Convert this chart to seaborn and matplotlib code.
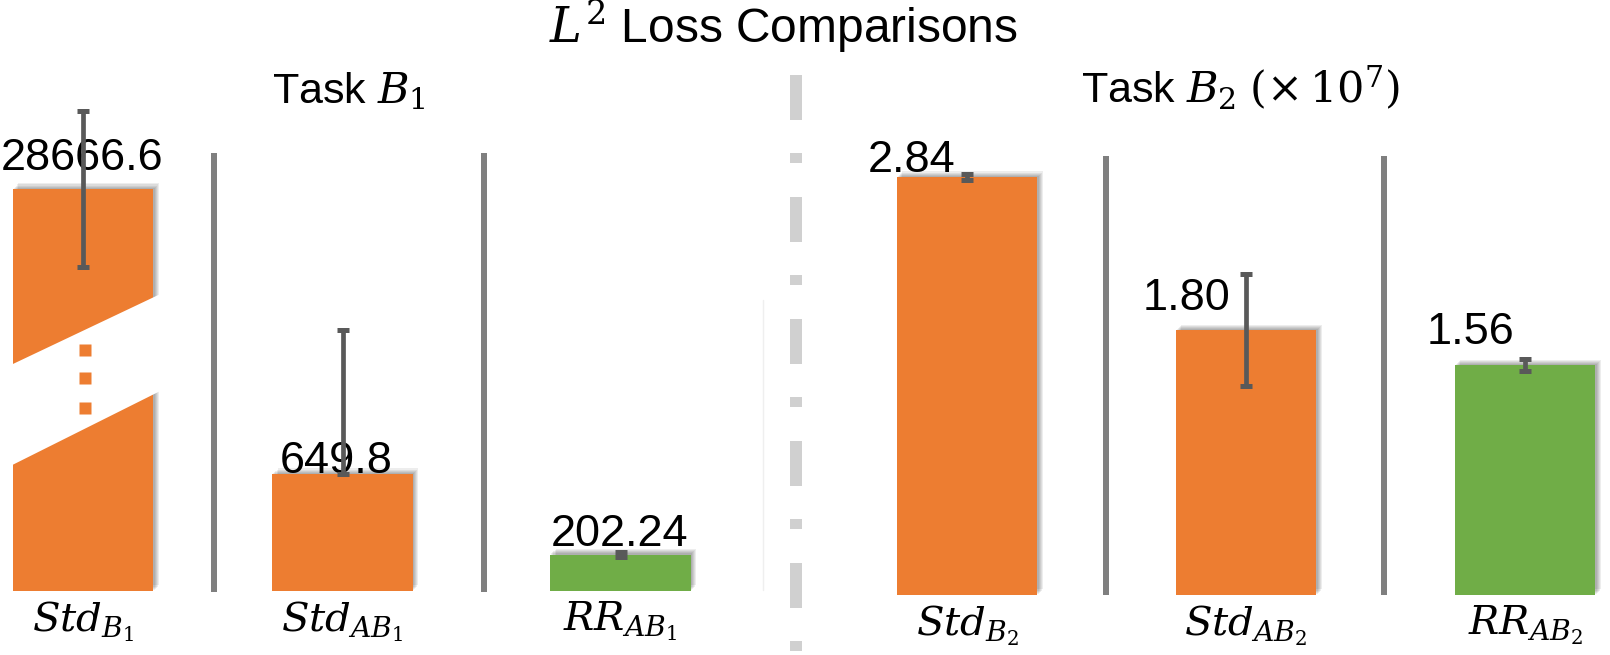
import numpy as np
import matplotlib
matplotlib.use("Agg")
import matplotlib.pyplot as plt
import matplotlib.patheffects as pe
from matplotlib.lines import Line2D
from matplotlib.patches import Polygon
import seaborn as sns

# ---------------- data ----------------
categories_B1 = [r"$Std_{B_1}$", r"$Std_{AB_1}$", r"$RR_{AB_1}$"]
values_B1 = [28666.6, 649.8, 202.24]
err_low_B1 = [11000.0, 0.0, 12.0]
err_high_B1 = [11000.0, 800.0, 12.0]
labels_B1 = ["28666.6", "649.8", "202.24"]

categories_B2 = [r"$Std_{B_2}$", r"$Std_{AB_2}$", r"$RR_{AB_2}$"]
values_B2 = [2.84, 1.80, 1.56]
err_low_B2 = [0.02, 0.38, 0.04]
err_high_B2 = [0.02, 0.38, 0.04]
labels_B2 = ["2.84", "1.80", "1.56"]

kinds = ["std", "std", "rr"]

# ---------------- style ----------------
sns.set_theme(style="white")
plt.rcParams["font.family"] = ["Liberation Sans", "DejaVu Sans"]
plt.rcParams["mathtext.fontset"] = "dejavuserif"
plt.rcParams["lines.scale_dashes"] = False

ORANGE = "#ED7D31"
GREEN = "#70AD47"
ERR = "#595959"
SEP = "#7F7F7F"
DASH = "#D0D0D0"
colors = {"std": ORANGE, "rr": GREEN}

W, H = 1610, 655
fig = plt.figure(figsize=(W / 100, H / 100), dpi=100)
fig.patch.set_facecolor("white")


def fx(px):
    return px / W


def fy(py):
    return 1 - py / H


PT = 0.72  # points per pixel at dpi 100

# layout (pixels)
centers_B1 = [83, 342.5, 620.5]
centers_B2 = [967, 1246, 1525]
base_B1, base_B2 = 591, 595
top_px = 100
ax_w = 160
ylim_B1 = 2727.0
ylim_B2 = 3.363
lab_dx_B1, lab_dy_B1 = [-0.5, -6, -1], [19, 1, 9]
lab_dx_B2, lab_dy_B2 = [-55, -60, -55], [5, 20, 21]

# broken scale for the first bar
T_BREAK, K_BREAK = 1150.0, 0.03936


def fwd(y):
    y = np.asarray(y, dtype=float)
    return np.where(y <= T_BREAK, y, T_BREAK + (y - T_BREAK) * K_BREAK)


def inv(y):
    y = np.asarray(y, dtype=float)
    return np.where(y <= T_BREAK, y, T_BREAK + (y - T_BREAK) / K_BREAK)


shadow = [pe.SimplePatchShadow(offset=(o, o), shadow_rgbFace="#000000", alpha=0.07)
          for o in (0.8, 1.6, 2.4, 3.2, 4.0)] + [pe.Normal()]


def draw_bar(cx, base, cat, val, elo, ehi, kind, label, ldx, ldy, ylim, broken=False):
    ax = fig.add_axes([fx(cx - ax_w / 2), fy(base), ax_w / W, (base - top_px) / H])
    sns.barplot(x=[cat], y=[val], color=colors[kind], saturation=1, width=0.88,
                ax=ax, zorder=2)
    if broken:
        ax.set_yscale("function", functions=(fwd, inv))
        ax.set_ylim(0, float(inv(ylim)))
    else:
        ax.set_ylim(0, ylim)
    ax.set_xlim(-0.5, 0.5)
    for p in ax.patches:
        p.set_path_effects(shadow)
        p.set_edgecolor("none")
    ax.errorbar([0], [val], yerr=[[elo], [ehi]], fmt="none", ecolor=ERR,
                elinewidth=3.4, capsize=4, capthick=3.6, zorder=6)
    ax.annotate(label, xy=(0, val), xytext=(ldx * PT, ldy * PT),
                textcoords="offset points", ha="center", va="baseline",
                fontsize=32.5, color="black", zorder=4, annotation_clip=False)
    ax.set_frame_on(False)
    ax.set_yticks([])
    ax.set_xlabel("")
    ax.set_ylabel("")
    ax.tick_params(axis="x", length=0, pad=6, labelsize=29, labelcolor="black")
    ax.grid(False)
    return ax


ax_first = None
for i in range(3):
    a = draw_bar(centers_B1[i], base_B1, categories_B1[i], values_B1[i], err_low_B1[i],
                 err_high_B1[i], kinds[i], labels_B1[i], lab_dx_B1[i], lab_dy_B1[i],
                 ylim_B1, broken=(i == 0))
    if i == 0:
        ax_first = a
for i in range(3):
    draw_bar(centers_B2[i], base_B2, categories_B2[i], values_B2[i], err_low_B2[i],
             err_high_B2[i], kinds[i], labels_B2[i], lab_dx_B2[i], lab_dy_B2[i],
             ylim_B2)

# break decoration on the first bar (axes-fraction coordinates)
band = Polygon([(-0.05, 0.445), (1.03, 0.612), (1.03, 0.415), (-0.05, 0.239)],
               closed=True, transform=ax_first.transAxes, facecolor="white",
               edgecolor="none", zorder=5, clip_on=False)
ax_first.add_patch(band)
ax_first.plot([0.51, 0.51, 0.51], [0.491, 0.434, 0.373], "s", color=ORANGE, ms=8.5,
              mec="none", transform=ax_first.transAxes, zorder=6, clip_on=False)

# separators
for xp, y0, y1 in [(214, 153, 592), (484, 153, 592), (1106, 156, 595), (1384, 156, 595)]:
    fig.add_artist(Line2D([fx(xp), fx(xp)], [fy(y0), fy(y1)], transform=fig.transFigure,
                          color=SEP, lw=6 * PT, solid_capstyle="butt"))

# central dash-dot divider
div = Line2D([fx(796), fx(796)], [fy(75), fy(660)], transform=fig.transFigure,
             color=DASH, lw=12 * PT, dash_capstyle="butt",
             linestyle=(0, (45 * PT, 33 * PT, 10 * PT, 34 * PT)))
fig.add_artist(div)
fig.add_artist(Line2D([fx(763), fx(763)], [fy(300), fy(590)], transform=fig.transFigure,
                      color="#EFEFEF", lw=1))

# titles
fig.text(fx(783), fy(43), r"$L^2$ Loss Comparisons", ha="center", va="baseline",
         fontsize=34.5, color="black")
fig.text(fx(349), fy(103), r"Task $B_1$", ha="center", va="baseline",
         fontsize=31, color="black")
fig.text(fx(1241), fy(103), r"Task $B_2$ $(\times\,10^7)$", ha="center", va="baseline",
         fontsize=31, color="black")

fig.savefig("out.png", dpi=100, facecolor="white")
